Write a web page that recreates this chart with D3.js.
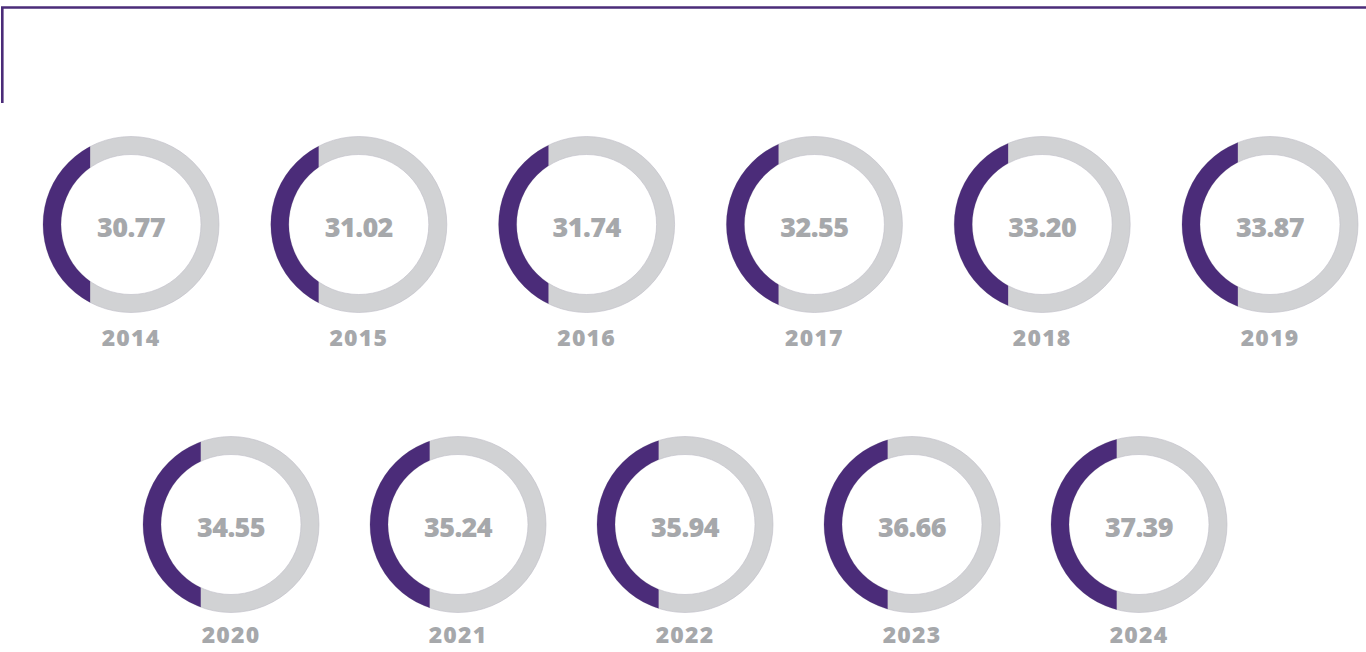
<!DOCTYPE html>
<html>
<head>
<meta charset="utf-8">
<script src="https://cdn.jsdelivr.net/npm/d3@7"></script>
<style>
  body { margin: 0; background: #fff; }
  svg { display: block; }
  .value { font-family: "Open Sans", sans-serif; font-weight: 800; fill: #a6a8ab; }
  .year { font-family: "Open Sans", sans-serif; font-weight: 800; fill: #a6a8ab; }
</style>
</head>
<body>
<div id="chart"></div>
<script>
// values
const years = [2014, 2015, 2016, 2017, 2018, 2019, 2020, 2021, 2022, 2023, 2024];
const values = [30.77, 31.02, 31.74, 32.55, 33.20, 33.87, 34.55, 35.24, 35.94, 36.66, 37.39];
const rowOneYears = years.slice(0, 6);
const rowTwoYears = years.slice(6);

const width = 1366, height = 652;
const outerR = 88, innerR = 70;
const purple = "#4b2c79", grey = "#d1d2d4";

const svg = d3.select("#chart").append("svg")
    .attr("width", width)
    .attr("height", height);

// frame line at top left
svg.append("path")
    .attr("d", "M2.3,103 L2.3,7.5 L1366,7.5")
    .attr("fill", "none")
    .attr("stroke", purple)
    .attr("stroke-width", 2.6);

const x1 = d3.scalePoint().domain(rowOneYears).range([131, 1270]);
const x2 = d3.scalePoint().domain(rowTwoYears).range([231, 1139]);

// where the purple part stops, relative to the centre
const cut = d3.scaleLinear().domain([30, 40]).range([-43, -15]);

const ring = d3.arc()
    .innerRadius(innerR)
    .outerRadius(outerR)
    .startAngle(0)
    .endAngle(2 * Math.PI);

const data = years.map((y, i) => {
    const top = i < 6;
    return {
        year: y,
        value: values[i],
        cx: top ? x1(y) : x2(y),
        cy: top ? 224.5 : 524.5,
        labelY: top ? 346 : 643
    };
});

const defs = svg.append("defs");
defs.selectAll("clipPath")
    .data(data)
    .enter()
    .append("clipPath")
    .attr("id", d => "clip" + d.year)
  .append("rect")
    .attr("x", -outerR - 2)
    .attr("y", -outerR - 2)
    .attr("width", d => outerR + 2 + cut(d.value))
    .attr("height", 2 * outerR + 4);

const donut = svg.selectAll("g.donut")
    .data(data)
    .enter()
    .append("g")
    .attr("class", "donut")
    .attr("transform", d => "translate(" + d.cx + "," + d.cy + ")");

donut.append("path")
    .attr("d", ring)
    .attr("fill", grey)
    .attr("stroke", "#bdbcc6")
    .attr("stroke-width", 0.6);

donut.append("path")
    .attr("d", ring)
    .attr("fill", purple)
    .attr("clip-path", d => "url(#clip" + d.year + ")");

donut.append("text")
    .attr("class", "value")
    .attr("text-anchor", "middle")
    .attr("y", 12)
    .attr("font-size", 27)
    .attr("letter-spacing", -0.6)
    .text(d => d.value.toFixed(2));

svg.selectAll("text.year")
    .data(data)
    .enter()
    .append("text")
    .attr("class", "year")
    .attr("text-anchor", "middle")
    .attr("x", d => d.cx)
    .attr("y", d => d.labelY)
    .attr("font-size", 23)
    .attr("letter-spacing", 1.2)
    .text(d => d.year);
</script>
</body>
</html>
